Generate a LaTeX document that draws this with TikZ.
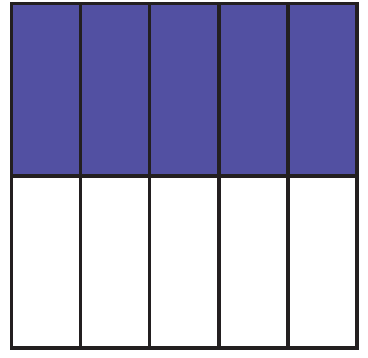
\documentclass[tikz,border=0pt]{standalone}
\definecolor{fillblue}{HTML}{5250A2}
\definecolor{gridline}{HTML}{231F20}
\begin{document}
\begin{tikzpicture}[x=1pt,y=-1pt,
  cell/.style={draw=gridline,line width=3.3pt},
  shaded/.style={cell,fill=fillblue},
  plain/.style={cell,fill=white}]
\useasboundingbox (0,0) rectangle (368,358);
\foreach \i in {0,...,4}{
  \pgfmathsetmacro{\xa}{11.7+69.06*\i}
  \pgfmathsetmacro{\xb}{11.7+69.06*(\i+1)}
  \path[shaded] (\xa,3.5) rectangle (\xb,176);
  \path[plain] (\xa,176) rectangle (\xb,348);
}
\draw[cell] (11.7,3.5) rectangle (357,348);
\end{tikzpicture}
\end{document}
